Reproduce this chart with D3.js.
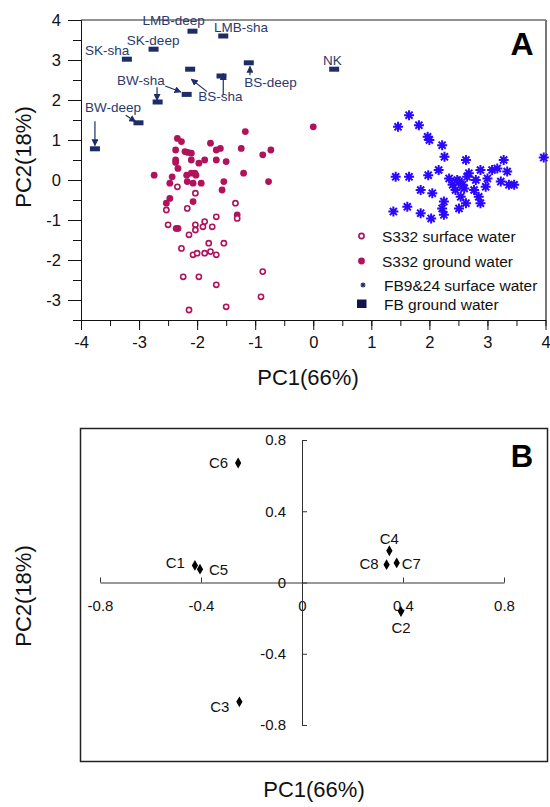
<!DOCTYPE html>
<html>
<head>
  <meta charset="utf-8">
  <title>PCA scores and loadings</title>
  <style>
    body { margin: 0; background: #fff; }
    text { font-family: "Liberation Sans", Arial, sans-serif; }
  </style>
</head>
<body>
  <svg width="550" height="807"></svg>
  <script src="https://d3js.org/d3.v7.min.js"></script>
  <script>
    // ---- data: panel A scores (PC1, PC2) ----
    var s332Surface = [
      [-2.34, -0.17], [-2.03, -0.33], [-1.34, -0.58], [-2.53, -0.75], [-2.17, -0.71],
      [-1.67, -0.92], [-1.31, -0.96], [-2.50, -1.12], [-2.03, -1.12], [-1.87, -1.04],
      [-1.90, -1.17], [-1.74, -1.17], [-2.03, -1.25], [-2.14, -1.37], [-2.27, -1.71],
      [-1.80, -1.58], [-1.54, -1.58], [-2.07, -1.87], [-2.00, -1.83], [-1.87, -1.83],
      [-1.77, -1.79], [-1.67, -1.87], [-0.87, -2.29], [-2.24, -2.42], [-1.97, -2.42],
      [-1.67, -2.62], [-0.90, -2.92], [-1.50, -3.17], [-2.14, -3.25]
    ];
    var s332Ground = [
      [0.00, 1.33], [-1.17, 1.21], [-2.34, 1.04], [-2.27, 0.96], [-1.77, 0.92],
      [-1.24, 0.79], [-0.73, 0.75], [-2.37, 0.75], [-2.21, 0.71], [-2.16, 0.69],
      [-2.10, 0.67], [-1.67, 0.75], [-1.60, 0.79], [-0.87, 0.63], [-2.37, 0.50],
      [-2.37, 0.44], [-2.10, 0.50], [-1.97, 0.42], [-1.87, 0.50], [-1.67, 0.50],
      [-1.50, 0.46], [-2.33, 0.29], [-2.74, 0.12], [-2.43, 0.08], [-2.18, 0.12],
      [-2.10, 0.17], [-2.04, 0.17], [-2.02, 0.12], [-1.20, 0.17], [-2.47, -0.08],
      [-2.17, -0.04], [-2.07, -0.08], [-1.93, -0.08], [-1.54, -0.04], [-0.77, -0.04],
      [-1.57, -0.25], [-2.47, -0.46], [-2.53, -0.58], [-2.07, -0.54], [-1.31, -0.87],
      [-2.36, -1.21], [-2.33, -1.21]
    ];
    var fbSurface = [
      [1.65, 1.62], [1.46, 1.33], [1.82, 1.37], [1.97, 1.08], [2.00, 1.00],
      [2.22, 0.87], [2.26, 0.58], [2.63, 0.50], [3.28, 0.50], [3.97, 0.56],
      [1.42, 0.08], [1.65, 0.08], [1.98, 0.12], [2.16, 0.25], [2.34, 0.04],
      [2.51, -0.04], [2.68, 0.17], [2.88, 0.25], [3.08, 0.25], [3.17, 0.29],
      [3.34, 0.21], [3.00, 0.04], [3.23, -0.04], [3.37, -0.12], [3.46, -0.12],
      [2.80, 0.00], [2.60, -0.21], [2.45, -0.25], [2.40, -0.12], [1.85, -0.25],
      [2.05, -0.33], [2.77, -0.25], [2.97, -0.17], [2.54, -0.42], [2.85, -0.42],
      [2.88, -0.58], [2.63, -0.58], [2.51, -0.71], [2.25, -0.54], [2.22, -0.71],
      [2.25, -0.87], [2.03, -0.96], [1.85, -0.83], [1.62, -0.67], [1.38, -0.79],
      [2.57, -0.12], [2.48, 0.00], [2.65, 0.08]
    ];
    var fbGround = [
      [-2.08, 3.72], [-1.55, 3.60], [-2.75, 3.27], [-3.21, 3.02], [-2.12, 2.77],
      [-1.11, 2.93], [0.36, 2.77], [-1.58, 2.60], [-2.18, 2.14], [-2.68, 1.95],
      [-3.01, 1.43], [-3.76, 0.78]
    ];
    // site labels: name, PC1, PC2 of text start
    var siteLabels = [
      ["LMB-deep", -2.94, 3.87], ["LMB-sha", -1.71, 3.71], ["SK-deep", -3.21, 3.37],
      ["SK-sha", -3.93, 3.12], ["NK", 0.17, 2.87], ["BW-sha", -3.38, 2.37],
      ["BS-deep", -1.19, 2.32], ["BS-sha", -1.98, 1.97], ["BW-deep", -3.93, 1.70]
    ];
    // pointer arrows: from (PC1, PC2) to (PC1, PC2)
    var siteArrows = [
      [-3.76, 1.47, -3.76, 0.86], [-3.23, 1.62, -3.06, 1.46],
      [-2.69, 2.32, -2.69, 1.99], [-2.55, 2.35, -2.28, 2.20],
      [-1.83, 2.21, -2.10, 2.52], [-1.55, 2.12, -1.55, 2.66],
      [-1.09, 2.62, -1.09, 2.84]
    ];
    var legendNames = ["S332 surface water", "S332 ground water", "FB9&24 surface water", "FB ground water"];

    // ---- data: panel B loadings ----
    var loadNames = ["C1", "C2", "C3", "C4", "C5", "C6", "C7", "C8"];
    var loadPC1 = [-0.424, 0.392, -0.248, 0.346, -0.404, -0.253, 0.375, 0.335];
    var loadPC2 = [0.096, -0.163, -0.670, 0.178, 0.075, 0.671, 0.110, 0.100];
    var loadTicks = [-0.8, -0.4, 0, 0.4, 0.8];

    var crimson = "#b0125b", starBlue = "#2a08ff", navy = "#1f2d66", labelNavy = "#2b3a6c";

    var svg = d3.select("svg");

    // ================= Panel A =================
    var xA = d3.scaleLinear().domain([-4, 4]).range([81, 545.5]);
    var yA = d3.scaleLinear().domain([-3.5, 4]).range([320, 20]);
    var gA = svg.append("g");

    // frame top & right
    gA.append("line").attr("x1", 81).attr("x2", 546).attr("y1", 20).attr("y2", 20)
      .attr("stroke", "#222").attr("stroke-width", 1);
    gA.append("line").attr("x1", 546).attr("x2", 546).attr("y1", 20).attr("y2", 320)
      .attr("stroke", "#777").attr("stroke-width", 2);

    var intFmt = function (d) { return String(d); };   // plain hyphen minus
    var halfX = d3.range(-4, 4.01, 0.5), halfY = d3.range(-3.5, 4.01, 0.5);
    gA.append("g").attr("transform", "translate(0,320)")
      .call(d3.axisBottom(xA).tickValues(halfX).tickSize(6).tickSizeOuter(0).tickFormat(""));
    gA.append("g").attr("transform", "translate(0,320)")
      .call(d3.axisBottom(xA).tickValues(d3.range(-4, 5)).tickSize(10).tickSizeOuter(0).tickPadding(6).tickFormat(intFmt))
      .call(function (g) { g.selectAll("text").attr("font-size", 16.5).attr("fill", "#111"); });
    gA.append("g").attr("transform", "translate(81,0)")
      .call(d3.axisLeft(yA).tickValues(halfY).tickSize(8).tickSizeOuter(0).tickFormat(""));
    gA.append("g").attr("transform", "translate(81,0)")
      .call(d3.axisLeft(yA).tickValues(d3.range(-3, 5)).tickSize(13).tickSizeOuter(0).tickPadding(7).tickFormat(intFmt))
      .call(function (g) { g.selectAll("text").attr("font-size", 16.5).attr("fill", "#111"); });
    gA.selectAll(".domain").attr("stroke", "#111");
    gA.selectAll(".tick line").attr("stroke", "#111");
    gA.selectAll(".tick text").attr("font-family", "Liberation Sans, Arial, sans-serif");

    // axis titles
    gA.append("text").attr("x", 308).attr("y", 385).attr("text-anchor", "middle")
      .attr("font-size", 22).attr("fill", "#111").text("PC1(66%)");
    gA.append("text").attr("transform", "translate(31,157) rotate(-90)").attr("text-anchor", "middle")
      .attr("font-size", 22).attr("fill", "#111").text("PC2(18%)");
    gA.append("text").attr("x", 522).attr("y", 55).attr("text-anchor", "middle")
      .attr("font-size", 32).attr("font-weight", "bold").attr("fill", "#000").text("A");

    // asterisk path
    function star(r) {
      var d = r * Math.SQRT1_2;
      return "M0," + (-r) + "V" + r + "M" + (-r) + ",0H" + r +
        "M" + (-d) + "," + (-d) + "L" + d + "," + d + "M" + (-d) + "," + d + "L" + d + "," + (-d);
    }

    // points
    gA.selectAll(".sg").data(s332Ground).enter().append("circle")
      .attr("cx", function (d) { return xA(d[0]); }).attr("cy", function (d) { return yA(d[1]); })
      .attr("r", 3.4).attr("fill", crimson);
    gA.selectAll(".ss").data(s332Surface).enter().append("circle")
      .attr("cx", function (d) { return xA(d[0]); }).attr("cy", function (d) { return yA(d[1]); })
      .attr("r", 2.6).attr("fill", "#fff").attr("stroke", crimson).attr("stroke-width", 1.6);
    gA.selectAll(".fs").data(fbSurface).enter().append("path")
      .attr("transform", function (d) { return "translate(" + xA(d[0]) + "," + yA(d[1]) + ")"; })
      .attr("d", star(5)).attr("stroke", starBlue).attr("stroke-width", 2).attr("fill", "none");
    gA.selectAll(".fg").data(fbGround).enter().append("rect")
      .attr("x", function (d) { return xA(d[0]) - 5; }).attr("y", function (d) { return yA(d[1]) - 2.5; })
      .attr("width", 10).attr("height", 5).attr("fill", navy);

    // labels and arrows
    svg.append("defs").append("marker").attr("id", "ah")
      .attr("viewBox", "0 0 10 10").attr("refX", 9).attr("refY", 5)
      .attr("markerWidth", 7).attr("markerHeight", 7).attr("markerUnits", "userSpaceOnUse")
      .attr("orient", "auto")
      .append("path").attr("d", "M0,0L10,5L0,10z").attr("fill", navy);
    gA.selectAll(".arr").data(siteArrows).enter().append("line")
      .attr("x1", function (d) { return xA(d[0]); }).attr("y1", function (d) { return yA(d[1]); })
      .attr("x2", function (d) { return xA(d[2]); }).attr("y2", function (d) { return yA(d[3]); })
      .attr("stroke", navy).attr("stroke-width", 1.2).attr("marker-end", "url(#ah)");
    gA.selectAll(".lab").data(siteLabels).enter().append("text")
      .attr("x", function (d) { return xA(d[1]); }).attr("y", function (d) { return yA(d[2]); })
      .attr("font-size", 13.5).attr("fill", labelNavy).text(function (d) { return d[0]; });

    // legend
    var lg = gA.append("g");
    var legY = [236, 261, 285, 304];
    legendNames.forEach(function (name, i) {
      lg.append("text").attr("x", 382 + (i >= 2 ? 2 : 0)).attr("y", legY[i] + 5.5)
        .attr("font-size", 15.5).attr("fill", "#111").text(name);
    });
    lg.append("circle").attr("cx", 361.5).attr("cy", legY[0]).attr("r", 2.6)
      .attr("fill", "#fff").attr("stroke", crimson).attr("stroke-width", 1.6);
    lg.append("circle").attr("cx", 361.5).attr("cy", legY[1]).attr("r", 3.4).attr("fill", crimson);
    lg.append("path").attr("transform", "translate(363," + legY[2] + ")")
      .attr("d", star(2.6)).attr("stroke", navy).attr("stroke-width", 1.2);
    lg.append("rect").attr("x", 357).attr("y", legY[3] - 4.5).attr("width", 9.5).attr("height", 8.5).attr("fill", "#14124f");

    // ================= Panel B =================
    var xB = d3.scaleLinear().domain([-0.8, 0.8]).range([100, 504]);
    var yB = d3.scaleLinear().domain([-0.8, 0.8]).range([725, 440]);
    var gB = svg.append("g");

    gB.append("rect").attr("x", 80.5).attr("y", 428.5).attr("width", 467).attr("height", 333)
      .attr("fill", "none").attr("stroke", "#222").attr("stroke-width", 1.5);

    var fmt = function (d) { return d === 0 ? "0" : d.toFixed(1); };
    gB.append("g").attr("transform", "translate(0," + yB(0) + ")")
      .call(d3.axisBottom(xB).tickValues(loadTicks).tickSize(-5).tickSizeOuter(0).tickPadding(18).tickFormat(fmt));
    gB.append("g").attr("transform", "translate(" + xB(0) + ",0)")
      .call(d3.axisLeft(yB).tickValues(loadTicks).tickSize(-5).tickSizeOuter(0).tickPadding(16).tickFormat(fmt));
    gB.selectAll(".domain, .tick line").attr("stroke", "#333");
    gB.selectAll(".tick text").attr("font-size", 15).attr("fill", "#111")
      .attr("font-family", "Liberation Sans, Arial, sans-serif");

    var loadings = loadNames.map(function (n, i) { return { name: n, x: loadPC1[i], y: loadPC2[i] }; });
    // label offsets in pixels relative to the point
    var labelPos = {
      C1: [-10, 3, "end"], C2: [0, 21, "middle"], C3: [-10, 10, "end"], C4: [0, -7, "middle"],
      C5: [9, 6, "start"], C6: [-10, 5, "end"], C7: [5, 6, "start"], C8: [-8, 4, "end"]
    };
    gB.selectAll(".ld").data(loadings).enter().append("path")
      .attr("transform", function (d) { return "translate(" + xB(d.x) + "," + yB(d.y) + ")"; })
      .attr("d", d3.symbol().type(d3.symbolDiamond).size(34)).attr("fill", "#000");
    gB.selectAll(".ll").data(loadings).enter().append("text")
      .attr("x", function (d) { return xB(d.x) + labelPos[d.name][0]; })
      .attr("y", function (d) { return yB(d.y) + labelPos[d.name][1]; })
      .attr("text-anchor", function (d) { return labelPos[d.name][2]; })
      .attr("font-size", 15).attr("fill", "#111").text(function (d) { return d.name; });

    gB.append("text").attr("x", 522).attr("y", 467).attr("text-anchor", "middle")
      .attr("font-size", 31).attr("font-weight", "bold").attr("fill", "#000").text("B");
    gB.append("text").attr("x", 314).attr("y", 797).attr("text-anchor", "middle")
      .attr("font-size", 22).attr("fill", "#111").text("PC1(66%)");
    gB.append("text").attr("transform", "translate(31,596) rotate(-90)").attr("text-anchor", "middle")
      .attr("font-size", 22).attr("fill", "#111").text("PC2(18%)");
  </script>
</body>
</html>
